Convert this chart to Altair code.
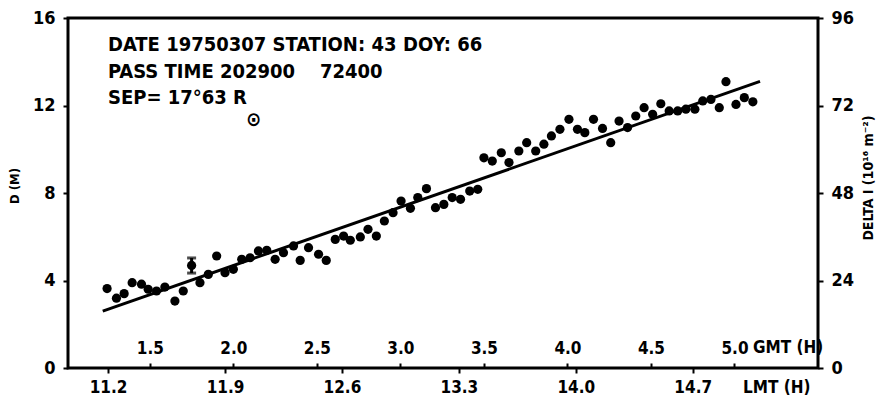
import altair as alt
import pandas as pd

# ---- data ----
gmt = [1.244, 1.300, 1.346, 1.394, 1.450, 1.490, 1.540, 1.590, 1.650, 1.700,
       1.750, 1.800, 1.850, 1.900, 1.950, 2.000, 2.050, 2.100, 2.150, 2.200,
       2.250, 2.300, 2.360, 2.400, 2.450, 2.510, 2.556, 2.610, 2.660, 2.700,
       2.760, 2.806, 2.856, 2.904, 2.956, 3.004, 3.060, 3.104, 3.156, 3.210,
       3.260, 3.310, 3.360, 3.415, 3.463, 3.500, 3.550, 3.604, 3.650, 3.709,
       3.756, 3.810, 3.859, 3.904, 3.955, 4.009, 4.060, 4.104, 4.156, 4.210,
       4.259, 4.309, 4.360, 4.409, 4.459, 4.510, 4.559, 4.609, 4.660, 4.709,
       4.763, 4.810, 4.859, 4.909, 4.949, 5.009, 5.059, 5.110]
d = [3.63, 3.19, 3.40, 3.90, 3.83, 3.60, 3.52, 3.70, 3.06, 3.52,
     4.69, 3.90, 4.28, 5.12, 4.36, 4.51, 4.97, 5.04, 5.35, 5.38,
     4.97, 5.27, 5.58, 4.92, 5.50, 5.20, 4.92, 5.88, 6.03, 5.84,
     5.99, 6.34, 6.03, 6.72, 7.10, 7.63, 7.30, 7.79, 8.20, 7.33,
     7.48, 7.79, 7.71, 8.09, 8.17, 9.61, 9.46, 9.84, 9.39, 9.92,
     10.30, 9.92, 10.23, 10.61, 10.91, 11.37, 10.91, 10.76, 11.37, 10.95,
     10.30, 11.29, 10.99, 11.52, 11.90, 11.60, 12.08, 11.75, 11.75, 11.83,
     11.83, 12.21, 12.28, 11.90, 13.09, 12.05, 12.36, 12.17]

err_gmt = [1.75]
err_lo = [4.34]
err_hi = [5.03]

fit_gmt = [1.218, 5.153]
fit_d = [2.6, 13.1]

gmt_ticks = [1.5, 2.0, 2.5, 3.0, 3.5, 4.0, 4.5, 5.0]
lmt_ticks = [11.2, 11.9, 12.6, 13.3, 14.0, 14.7]
d_ticks = [0, 4, 8, 12, 16]
delta_ticks = [0, 24, 48, 72, 96]

GMT_DOMAIN = [1.01, 5.5]
LMT_OFFSET = 9.95
LMT_DOMAIN = [GMT_DOMAIN[0] + LMT_OFFSET, GMT_DOMAIN[1] + LMT_OFFSET]
D_DOMAIN = [0, 16]
DELTA_DOMAIN = [0, 96]

line1a = "DATE 19750307 STATION: 43"
line1b = "DOY: 66"
line2a = "PASS TIME 202900"
line2b = "72400"
line3 = "SEP= 17°63 R"
sun = "⊙"
d_title = "D (M)"
delta_title = "DELTA I (10¹⁶ m⁻²)"
gmt_title = "GMT (H)"
lmt_title = "LMT (H)"

FONT = "'DejaVu Sans Condensed', 'Liberation Sans Narrow', 'Roboto Condensed', 'DejaVu Sans', sans-serif"
W, H = 750, 350

xs = alt.Scale(domain=GMT_DOMAIN, nice=False, zero=False)
ys = alt.Scale(domain=D_DOMAIN, nice=False)

x_axis = alt.Axis(orient="top", offset=-H, values=gmt_ticks, format=".1f",
                  tickSize=5, tickWidth=2, tickColor="black", labelPadding=6,
                  domain=False, grid=False, title=None, labelFont=FONT,
                  labelFontSize=17, labelFontWeight="bold", labelColor="black")
y_axis = alt.Axis(orient="left", values=d_ticks, format="d", tickSize=5, tickWidth=2,
                  tickColor="black", labelPadding=8, domain=False, grid=False,
                  title=None, labelFont=FONT, labelFontSize=18,
                  labelFontWeight="bold", labelColor="black")

X = alt.X("gmt:Q", scale=xs, axis=x_axis)
Y = alt.Y("d:Q", scale=ys, axis=y_axis)

pts_df = pd.DataFrame({"gmt": gmt, "d": d})
fit_df = pd.DataFrame({"gmt": fit_gmt, "d": fit_d})
err_df = pd.DataFrame({"gmt": err_gmt, "d": err_lo, "d2": err_hi})

points = alt.Chart(pts_df).mark_circle(size=85, color="black", opacity=1).encode(x=X, y=Y)
fit = alt.Chart(fit_df).mark_line(color="black", strokeWidth=3).encode(x=X, y=Y)
err_rule = alt.Chart(err_df).mark_rule(color="black", strokeWidth=3).encode(
    x=X, y=Y, y2="d2:Q")
cap_lo = alt.Chart(err_df).mark_tick(color="black", thickness=3, size=9, orient="horizontal").encode(x=X, y=Y)
cap_hi = alt.Chart(err_df).mark_tick(color="black", thickness=3, size=9, orient="horizontal").encode(
    x=X, y=alt.Y("d2:Q", scale=ys, axis=y_axis))


def txt(s, x, y, size, align="left", angle=0):
    kw = dict(font=FONT, fontSize=size, fontWeight="bold", color="black",
              align=align, baseline="middle")
    if angle:
        kw["angle"] = angle
    return alt.Chart(pd.DataFrame({"t": [s]})).mark_text(**kw).encode(
        text="t:N", x=alt.value(x), y=alt.value(y))


texts = [
    txt(line1a, 40, 27, 20),
    txt(line1b, 335, 27, 20),
    txt(line2a, 40, 54, 20),
    txt(line2b, 252, 54, 20),
    txt(line3, 40, 80, 20),
    txt(sun, 178, 102, 20),
    txt(d_title, -53, 168, 13, align="center", angle=270),
    txt(delta_title, 801, 160, 14, align="center", angle=270),
    txt(gmt_title, 685, 330, 17),
    txt(lmt_title, 675, 370, 17),
]

main = alt.layer(fit, points, err_rule, cap_lo, cap_hi, *texts)

aux_df = pd.DataFrame({"lmt": [lmt_ticks[0]], "delta": [delta_ticks[0]]})
aux = alt.Chart(aux_df).mark_point(opacity=0).encode(
    x=alt.X("lmt:Q", scale=alt.Scale(domain=LMT_DOMAIN, nice=False, zero=False),
            axis=alt.Axis(orient="bottom", values=lmt_ticks, format=".1f", tickSize=5,
                          tickWidth=2, tickColor="black", labelPadding=6, domain=False,
                          grid=False, title=None, labelFont=FONT, labelFontSize=17,
                          labelFontWeight="bold", labelColor="black")),
    y=alt.Y("delta:Q", scale=alt.Scale(domain=DELTA_DOMAIN, nice=False),
            axis=alt.Axis(orient="right", values=delta_ticks, format="d", tickSize=5,
                          tickWidth=2, tickColor="black", labelPadding=8, domain=False,
                          grid=False, title=None, labelFont=FONT, labelFontSize=18,
                          labelFontWeight="bold", labelColor="black")),
)

chart = alt.layer(main, aux).resolve_scale(x="independent", y="independent").properties(
    width=W, height=H,
    padding={"left": 60, "top": 10, "right": 58, "bottom": 29},
    autosize="none",
    background="white",
).configure_view(stroke="black", strokeWidth=3)

chart.save("out.html", embed_options={"renderer": "svg", "actions": False})
